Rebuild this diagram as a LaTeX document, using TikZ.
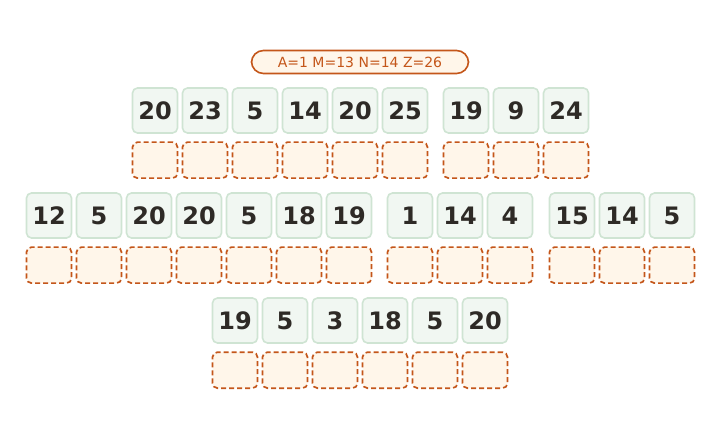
\documentclass[tikz,border=0pt]{standalone}
\usepackage{fontspec}
\setmainfont{DejaVu Sans}
\usetikzlibrary{positioning}
\definecolor{greenfill}{HTML}{F1F7F2}
\definecolor{greenline}{HTML}{CFE4D3}
\definecolor{numtext}{HTML}{2E2A26}
\definecolor{ansfill}{HTML}{FFF6EA}
\definecolor{ansline}{HTML}{C4561A}
\begin{document}
\begin{tikzpicture}[x=1pt,y=-1pt,node distance=7.5pt,
                    numbox/.style={draw=greenline,fill=greenfill,line width=1.6pt,rounded corners=5pt,
                                   minimum width=45pt,minimum height=45pt,inner sep=0pt,
                                   text=numtext,font=\fontsize{24}{24}\selectfont\bfseries},
                    ansbox/.style={draw=ansline,fill=ansfill,line width=1.7pt,rounded corners=5pt,
                                   dash pattern=on 5pt off 3pt,
                                   minimum width=45pt,minimum height=36pt,inner sep=0pt},
                    keybox/.style={draw=ansline,fill=ansfill,line width=1.6pt,rounded corners=12pt,
                                   minimum width=217pt,minimum height=23pt,inner sep=0pt,
                                   text=ansline,font=\fontsize{14}{14}\selectfont}]
\useasboundingbox (0,0) rectangle (720,438);
\node[keybox] (key) at (360,62) {A=1 M=13 N=14 Z=26};
% row 1
\node[numbox] (r1n1) at (155,110.5) {20};
\node[numbox] (r1n2) at (205,110.5) {23};
\node[numbox] (r1n3) at (255,110.5) {5};
\node[numbox] (r1n4) at (305,110.5) {14};
\node[numbox] (r1n5) at (355,110.5) {20};
\node[numbox] (r1n6) at (405,110.5) {25};
\node[numbox] (r1n7) at (466,110.5) {19};
\node[numbox] (r1n8) at (516,110.5) {9};
\node[numbox] (r1n9) at (566,110.5) {24};
\node[ansbox,below=of r1n1] (r1a1) {};
\node[ansbox,below=of r1n2] (r1a2) {};
\node[ansbox,below=of r1n3] (r1a3) {};
\node[ansbox,below=of r1n4] (r1a4) {};
\node[ansbox,below=of r1n5] (r1a5) {};
\node[ansbox,below=of r1n6] (r1a6) {};
\node[ansbox,below=of r1n7] (r1a7) {};
\node[ansbox,below=of r1n8] (r1a8) {};
\node[ansbox,below=of r1n9] (r1a9) {};
% row 2
\node[numbox] (r2n1) at (49,215.5) {12};
\node[numbox] (r2n2) at (99,215.5) {5};
\node[numbox] (r2n3) at (149,215.5) {20};
\node[numbox] (r2n4) at (199,215.5) {20};
\node[numbox] (r2n5) at (249,215.5) {5};
\node[numbox] (r2n6) at (299,215.5) {18};
\node[numbox] (r2n7) at (349,215.5) {19};
\node[numbox] (r2n8) at (410,215.5) {1};
\node[numbox] (r2n9) at (460,215.5) {14};
\node[numbox] (r2n10) at (510,215.5) {4};
\node[numbox] (r2n11) at (572,215.5) {15};
\node[numbox] (r2n12) at (622,215.5) {14};
\node[numbox] (r2n13) at (672,215.5) {5};
\node[ansbox,below=of r2n1] (r2a1) {};
\node[ansbox,below=of r2n2] (r2a2) {};
\node[ansbox,below=of r2n3] (r2a3) {};
\node[ansbox,below=of r2n4] (r2a4) {};
\node[ansbox,below=of r2n5] (r2a5) {};
\node[ansbox,below=of r2n6] (r2a6) {};
\node[ansbox,below=of r2n7] (r2a7) {};
\node[ansbox,below=of r2n8] (r2a8) {};
\node[ansbox,below=of r2n9] (r2a9) {};
\node[ansbox,below=of r2n10] (r2a10) {};
\node[ansbox,below=of r2n11] (r2a11) {};
\node[ansbox,below=of r2n12] (r2a12) {};
\node[ansbox,below=of r2n13] (r2a13) {};
% row 3
\node[numbox] (r3n1) at (235,320.5) {19};
\node[numbox] (r3n2) at (285,320.5) {5};
\node[numbox] (r3n3) at (335,320.5) {3};
\node[numbox] (r3n4) at (385,320.5) {18};
\node[numbox] (r3n5) at (435,320.5) {5};
\node[numbox] (r3n6) at (485,320.5) {20};
\node[ansbox,below=of r3n1] (r3a1) {};
\node[ansbox,below=of r3n2] (r3a2) {};
\node[ansbox,below=of r3n3] (r3a3) {};
\node[ansbox,below=of r3n4] (r3a4) {};
\node[ansbox,below=of r3n5] (r3a5) {};
\node[ansbox,below=of r3n6] (r3a6) {};
\end{tikzpicture}
\end{document}
